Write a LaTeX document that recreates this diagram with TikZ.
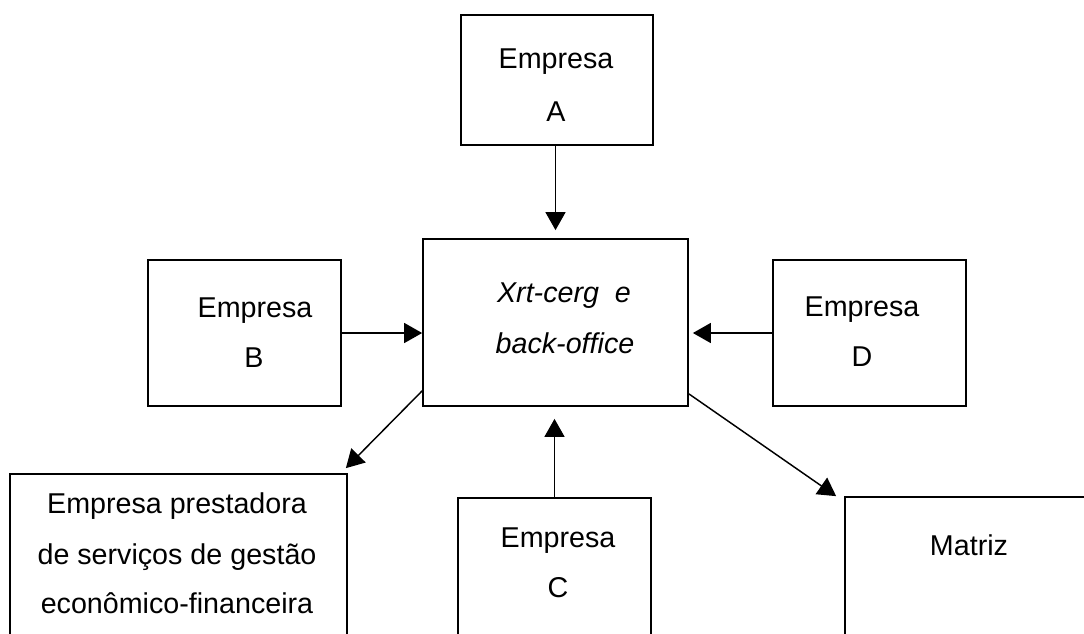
\documentclass[tikz,border=0pt]{standalone}
\usepackage{fontspec}
\setmainfont{Liberation Sans}
\usetikzlibrary{arrows.meta,calc}
\begin{document}
\begin{tikzpicture}[x=0.75pt,y=-0.75pt,
  box/.style 2 args={draw,line width=1.3pt,inner sep=0pt,
    minimum width=#1*0.75pt,minimum height=#2*0.75pt},
  txt/.style={anchor=base,inner sep=0pt,font=\fontsize{21.5}{26}\selectfont},
  arr/.style={line width=1.1pt,-{Triangle[length=13.5pt,width=15pt]}}]
\useasboundingbox (0,0) rectangle (1084,633);
\clip (0,0) rectangle (1084,633);

% boxes
\node[box={192}{130}] (A) at (557,80) {};
\node[box={265}{167}] (X) at (555.5,322.5) {};
\node[box={193}{146}] (B) at (244.5,333) {};
\node[box={193}{146}] (D) at (869.5,333) {};
\node[box={337}{180}] (P) at (178.5,564) {};
\node[box={193}{160}] (C) at (554.5,578) {};
\node[box={265}{160}] (M) at (977.5,577) {};

% texts
\node[txt] (A1) at (556,68) {Empresa};
\node[txt] (A2) at (556,121) {A};
\node[txt] (X1) at (564,302) {\itshape Xrt-cerg\ \ e};
\node[txt] (X2) at (565,353) {\itshape back-office};
\node[txt] (B1) at (255,317) {Empresa};
\node[txt] (B2) at (254,367) {B};
\node[txt] (D1) at (862,316) {Empresa};
\node[txt] (D2) at (862,366) {D};
\node[txt] (P1) at (177,513) {Empresa prestadora};
\node[txt] (P2) at (177,564) {de serviços de gestão};
\node[txt] (P3) at (177,613) {econômico-financeira};
\node[txt] (C1) at (558,547) {Empresa};
\node[txt] (C2) at (558,597) {C};
\node[txt] (M1) at (969,555) {Matriz};

% connectors
\draw[arr,shorten >=6pt] (A.south -| X.north) -- (X.north);
\draw[arr] (B.east) -- (X.west |- B.east);
\draw[arr,shorten >=3pt] (D.west) -- (X.east |- D.west);
\draw[arr,shorten >=9pt] (C.north) -- (C.north |- X.south);
\draw[arr] ($(X.south west)+(0,-16)$) -- ($(P.north east)+(-2,-5)$);
\draw[arr] ($(X.south east)+(0,-13)$) -- ($(M.north west)+(-8,0)$);
\end{tikzpicture}
\end{document}
